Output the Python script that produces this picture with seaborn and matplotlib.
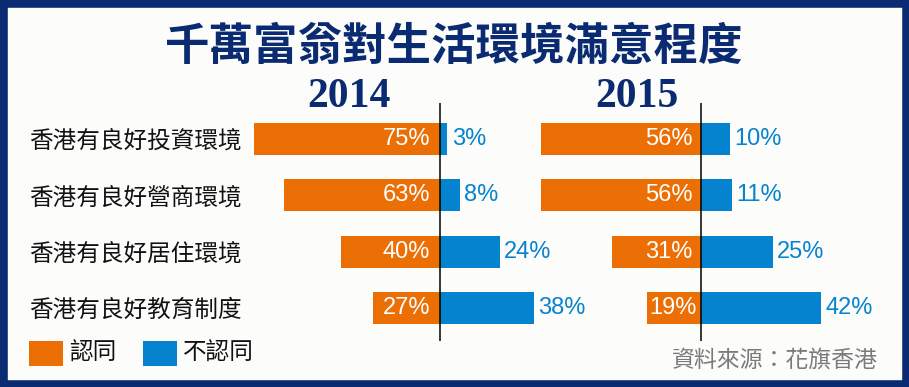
import matplotlib.pyplot as plt
import seaborn as sns
from matplotlib.patches import Rectangle

# survey data (percent)
categories = ["香港有良好投資環境", "香港有良好營商環境", "香港有良好居住環境", "香港有良好教育制度"]
agree_2014 = [75, 63, 40, 27]
disagree_2014 = [3, 8, 24, 38]
agree_2015 = [56, 56, 31, 19]
disagree_2015 = [10, 11, 25, 42]
years = ["2014", "2015"]

NAVY = "#0a2b72"
ORANGE = "#ec6f06"
BLUE = "#0683cf"
W, H = 909, 387

sns.set_theme(style="white")
plt.rcParams["font.family"] = ["Noto Sans CJK TC", "DejaVu Sans"]

fig = plt.figure(figsize=(W / 100, H / 100), dpi=100, facecolor="#fcfdfb")

# border
fig.add_artist(Rectangle((0, 0), 1, 1, transform=fig.transFigure, fill=False,
                         edgecolor=NAVY, linewidth=10.5))

def fx(px):
    return px / W

def fy(py):
    return 1 - py / H

# axes: y span of the centre line, x span chosen so px-per-percent matches
ax_bottom, ax_top = fy(341), fy(103)
panels = [
    # (left px, right px, centre px, px per percent)
    (244, 600, 440, 2.48),
    (530, 890, 701, 2.86),
]
data = [(agree_2014, disagree_2014), (agree_2015, disagree_2015)]
label_gap = [7.2, 5.8]

for i, ((l, r, c, scale), (agree, disagree)) in enumerate(zip(panels, data)):
    ax = fig.add_axes([fx(l), ax_bottom, fx(r - l), ax_top - ax_bottom])
    ax.patch.set_alpha(0)
    sns.barplot(x=[-v for v in agree], y=categories, color=ORANGE, orient="h",
                width=0.57, saturation=1, linewidth=0, ax=ax)
    sns.barplot(x=disagree, y=categories, color=BLUE, orient="h",
                width=0.57, saturation=1, linewidth=0, ax=ax)
    ax.set_xlim(-(c - l) / scale, (r - c) / scale)
    ax.set_ylim(3.586, -0.639)
    ax.axvline(0, color="black", linewidth=1.1)
    sns.despine(ax=ax, left=True, bottom=True)
    ax.set_xticks([])
    ax.set_xlabel("")
    ax.set_ylabel("")

    for j, (a, d) in enumerate(zip(agree, disagree)):
        ax.annotate(f"{a}%", (-a if a < 25 else 0, j), xytext=(-label_gap[i] if a >= 25 else 2, 0),
                    textcoords="offset points", ha="right" if a >= 25 else "left",
                    va="center", color="white", fontsize=17, family="Liberation Sans")
        ax.annotate(f"{d}%", (d, j), xytext=(3, 0), textcoords="offset points",
                    ha="left", va="center", color=BLUE, fontsize=17,
                    family="Liberation Sans")

    if i == 0:
        ax.tick_params(axis="y", length=0, pad=2, labelsize=17)
        for t in ax.get_yticklabels():
            t.set_color("#111111")
    else:
        ax.set_yticks([])

# title and year headings
fig.text(fx(454), fy(47), "千萬富翁對生活環境滿意程度", ha="center", va="center",
         fontsize=32, fontweight="bold", color=NAVY)
for x, yr in zip([349, 637], years):
    fig.text(fx(x), fy(97), yr, ha="center", va="center", fontsize=30,
             fontweight="bold", family="Liberation Serif", color=NAVY)

# legend
for x0, col, lab in [(29, ORANGE, "認同"), (143, BLUE, "不認同")]:
    fig.add_artist(Rectangle((fx(x0), fy(366)), fx(34), 25 / H,
                             transform=fig.transFigure, facecolor=col, edgecolor="none"))
    fig.text(fx(x0 + 40), fy(353), lab, ha="left", va="center", fontsize=17,
             color="#111111")

fig.text(fx(878), fy(360), "資料來源：花旗香港", ha="right", va="center",
         fontsize=16.5, color="#7a7a7a")

fig.savefig("out.png", dpi=100, facecolor=fig.get_facecolor())
